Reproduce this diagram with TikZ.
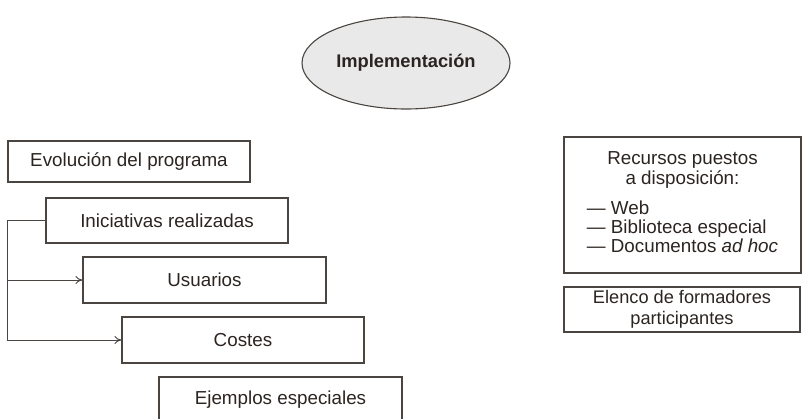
\documentclass[tikz,border=0pt]{standalone}
\usepackage{fontspec}
\setmainfont{Liberation Sans}
\usetikzlibrary{arrows.meta,shapes.geometric}
\definecolor{txt}{HTML}{2B2420}
\definecolor{edge}{HTML}{4A4540}
\definecolor{ellfill}{HTML}{E9E9E9}
\tikzset{
  box/.style={draw=edge, line width=1.1pt, rectangle, inner sep=0pt, text=txt,
    font=\fontsize{18.8}{18}\selectfont},
  oval/.style={draw=edge, line width=1.1pt, ellipse, fill=ellfill, inner sep=0pt, text=txt,
    font=\fontsize{18.3}{18}\selectfont\bfseries},
  conn/.style={draw=edge, line width=1pt},
  arr/.style={conn, -{To[length=7pt,width=8pt]}}
}
\begin{document}
\begin{tikzpicture}[x=1pt,y=-1pt]
\useasboundingbox (0,0) rectangle (802,418);
\node[oval, minimum width=208pt, minimum height=92pt] (impl) at (406,63) {Implementación};
\node[box, minimum width=242pt, minimum height=41pt] (evol) at (129,161.5) {Evolución del programa};
\node[box, minimum width=242pt, minimum height=45pt] (inic) at (167,220.5) {Iniciativas realizadas};
\node[box, minimum width=243pt, minimum height=46pt] (usu) at (204.5,280) {Usuarios};
\node[box, minimum width=242pt, minimum height=46pt] (cost) at (243,340) {Costes};
\node[box, minimum width=243pt, minimum height=46pt] (ejem) at (280.5,400) {Ejemplos especiales};
\node[box, minimum width=237pt, minimum height=136pt, align=center] (rec) at (682.5,205)
  {Recursos puestos\\[2pt]a disposición:\\[12pt]\begin{tabular}[t]{@{}l@{}}— Web\\— Biblioteca especial\\— Documentos \textit{ad hoc}\end{tabular}};
\node[box, minimum width=236pt, minimum height=45pt, align=center, font=\fontsize{18.2}{21}\selectfont] (elen) at (682,309.5)
  {Elenco de formadores\\participantes};
\coordinate (trunk) at (7,0);
\draw[arr] (inic.west) -- (inic.west -| trunk) -- (trunk |- cost.west) -- (cost.west);
\draw[arr] (trunk |- usu.west) -- (usu.west);
\end{tikzpicture}
\end{document}
